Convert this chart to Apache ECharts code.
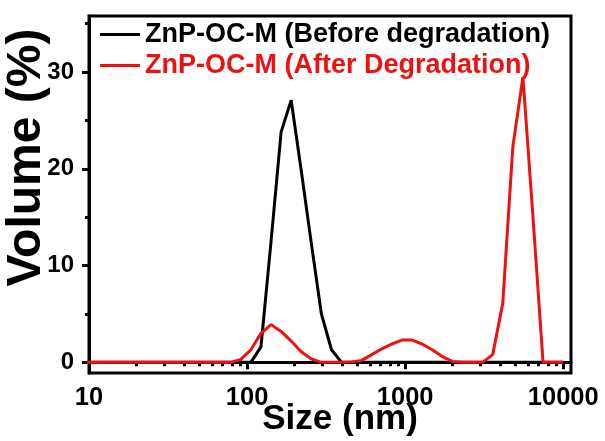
<!DOCTYPE html>
<html>
<head>
<meta charset="utf-8">
<script src="https://cdn.jsdelivr.net/npm/echarts@6/dist/echarts.min.js"></script>
<style>
  html, body { margin: 0; padding: 0; background: #fff; }
  #chart { width: 605px; height: 441px; }
</style>
</head>
<body>
<div id="chart"></div>
<script>
// DLS size bins (nm)
const sizes = [8.721, 10.10, 11.70, 13.54, 15.69, 18.17, 21.04, 24.36, 28.21, 32.67,
  37.84, 43.82, 50.75, 58.77, 68.06, 78.82, 91.28, 105.7, 122.4, 141.8,
  164.2, 190.1, 220.2, 255.0, 295.3, 342.0, 396.1, 458.7, 531.2, 615.1,
  712.4, 825.0, 955.4, 1106, 1281, 1484, 1718, 1990, 2305, 2669,
  3091, 3580, 4145, 4801, 5560, 6439, 7456, 8635, 10000];

// Volume distribution (%) before degradation
const beforeVolume = [0, 0, 0, 0, 0, 0, 0, 0, 0, 0,
  0, 0, 0, 0, 0, 0, 0, 0, 1.6, 12.5,
  23.8, 27.1, 19.8, 12.3, 5.0, 1.3, 0, 0, 0, 0,
  0, 0, 0, 0, 0, 0, 0, 0, 0, 0,
  0, 0, 0, 0, 0, 0, 0, 0, 0];

// Volume distribution (%) after degradation
const afterVolume = [0, 0, 0, 0, 0, 0, 0, 0, 0, 0,
  0, 0, 0, 0, 0, 0, 0.3, 1.3, 3.0, 3.9,
  3.2, 2.2, 1.1, 0.35, 0, 0, 0, 0.05, 0.2, 0.8,
  1.4, 1.9, 2.3, 2.3, 1.9, 1.3, 0.6, 0.1, 0, 0,
  0, 0.8, 6.1, 22.3, 29.5, 15.0, 0, 0, 0];

const seriesNames = ['ZnP-OC-M (Before degradation)', 'ZnP-OC-M (After Degradation)'];
const xMajorTicks = [10, 100, 1000, 10000];
const xMinorTicks = [20, 30, 40, 50, 60, 70, 80, 90, 200, 300, 400, 500, 600, 700, 800, 900,
  2000, 3000, 4000, 5000, 6000, 7000, 8000, 9000];
const yMajorTicks = [0, 10, 20, 30];
const yMinorTicks = [5, 15, 25, 35];

const FONT = '"Liberation Sans", Arial, sans-serif';
const RED = '#ee1111';
const X_MIN = 10, X_MAX = 11200, Y_MIN = -1.1, Y_MAX = 35.8;
const gridBox = { left: 89, right: 34, top: 16, bottom: 68, outerBoundsMode: 'none', containLabel: false };

const chart = echarts.init(document.getElementById('chart'), null, { renderer: 'canvas' });

const pair = (ys) => sizes.map((s, i) => [s, ys[i]]);

chart.setOption({
  animation: false,
  backgroundColor: '#fff',
  textStyle: { fontFamily: FONT },
  grid: [
    Object.assign({ show: true, borderColor: '#000', borderWidth: 3 }, gridBox),
    Object.assign({ show: false }, gridBox)
  ],
  legend: {
    show: true,
    orient: 'vertical',
    left: 95,
    top: 16,
    itemWidth: 40,
    itemHeight: 3,
    itemGap: 4,
    icon: 'rect',
    textStyle: { fontFamily: FONT, fontWeight: 'bold', fontSize: 27 },
    data: [
      { name: seriesNames[0], textStyle: { color: '#000' } },
      { name: seriesNames[1], textStyle: { color: RED } }
    ]
  },
  xAxis: [
    {
      type: 'log', logBase: 10, min: X_MIN, max: X_MAX, gridIndex: 0,
      name: 'Size (nm)', nameLocation: 'middle', nameGap: 29, nameMoveOverlap: false,
      nameTextStyle: { fontFamily: FONT, fontWeight: 'bold', fontSize: 35, color: '#000',
        padding: [0, 0, 0, 20] },
      axisLine: { show: true, lineStyle: { color: '#000', width: 3 } },
      axisTick: { show: true, inside: false, length: 7, lineStyle: { color: '#000', width: 3 },
        customValues: xMajorTicks },
      axisLabel: { show: true, margin: 12, color: '#000', fontFamily: FONT, fontWeight: 'bold', fontSize: 25.5,
        customValues: xMajorTicks, formatter: (v) => String(Math.round(v)) },
      splitLine: { show: false }, minorTick: { show: false }
    },
    {
      type: 'log', logBase: 10, min: X_MIN, max: X_MAX, gridIndex: 1,
      axisLine: { show: false },
      axisTick: { show: true, inside: false, length: 4, lineStyle: { color: '#000', width: 3 },
        customValues: xMinorTicks },
      axisLabel: { show: false }, splitLine: { show: false }
    }
  ],
  yAxis: [
    {
      type: 'value', min: Y_MIN, max: Y_MAX, gridIndex: 0,
      name: 'Volume (%)', nameLocation: 'middle', nameGap: 38, nameRotate: 90, nameMoveOverlap: false,
      nameTextStyle: { fontFamily: FONT, fontWeight: 'bold', fontSize: 48, color: '#000',
        padding: [0, 0, 0, 74] },
      axisLine: { show: true, lineStyle: { color: '#000', width: 3 } },
      axisTick: { show: true, inside: false, length: 7, lineStyle: { color: '#000', width: 3 },
        customValues: yMajorTicks },
      axisLabel: { show: true, margin: 15, color: '#000', fontFamily: FONT, fontWeight: 'bold', fontSize: 24,
        customValues: yMajorTicks },
      splitLine: { show: false }
    },
    {
      type: 'value', min: Y_MIN, max: Y_MAX, gridIndex: 1,
      axisLine: { show: false },
      axisTick: { show: true, inside: false, length: 4, lineStyle: { color: '#000', width: 3 },
        customValues: yMinorTicks },
      axisLabel: { show: false }, splitLine: { show: false }
    }
  ],
  series: [
    {
      name: seriesNames[0], type: 'line', xAxisIndex: 0, yAxisIndex: 0,
      data: pair(beforeVolume), symbol: 'none', smooth: false, clip: true,
      lineStyle: { color: '#000', width: 3 }, itemStyle: { color: '#000' }, z: 2
    },
    {
      name: seriesNames[1], type: 'line', xAxisIndex: 0, yAxisIndex: 0,
      data: pair(afterVolume), symbol: 'none', smooth: false, clip: true,
      lineStyle: { color: RED, width: 3 }, itemStyle: { color: RED }, z: 3
    }
  ]
});
</script>
</body>
</html>
